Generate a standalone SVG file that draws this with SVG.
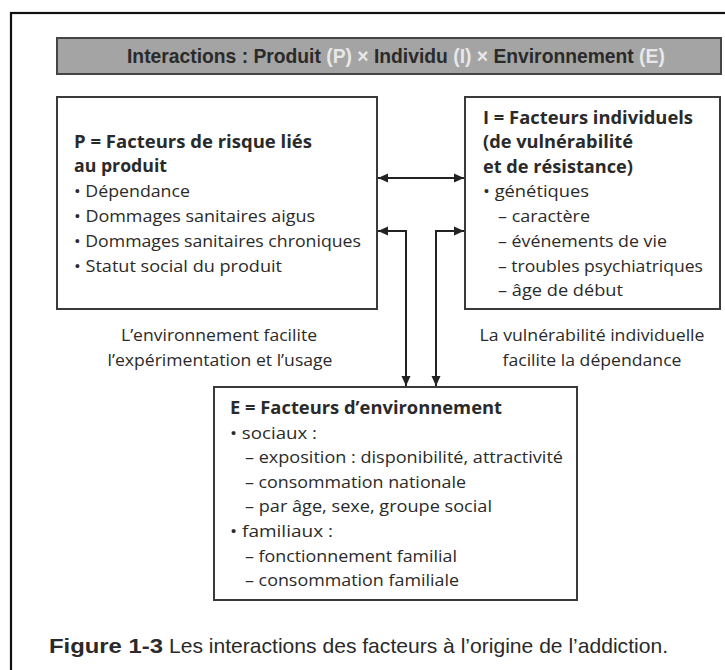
<svg xmlns="http://www.w3.org/2000/svg" width="725" height="670" viewBox="0 0 725 670">
<style>
  .frame{fill:none;stroke:#111;stroke-width:2.2}
  .box{fill:#fff;stroke:#3a3a3a;stroke-width:2}
  .ban{fill:#a4a4a4;stroke:#444;stroke-width:2}
  text{font-family:"Open Sans","Liberation Sans",sans-serif;fill:#2a2a2a}
  .t{font-size:17px}
  .b{font-size:17.5px;font-weight:bold}
  .bt{font-family:"Liberation Sans","Open Sans",sans-serif;font-size:19.3px;font-weight:bold;fill:#2a2a2a}
  .lt{fill:#e8e8e8}
  .cap{font-family:"Liberation Sans","Open Sans",sans-serif;font-size:21px}
  .capb{font-weight:900}
  .conn{fill:none;stroke:#222;stroke-width:2}
</style>
<defs>
  <marker id="ah" viewBox="0 0 10 10" refX="10" refY="5" markerWidth="11" markerHeight="10" markerUnits="userSpaceOnUse" orient="auto-start-reverse">
    <path d="M0,0.5 L10,5 L0,9.5 z" fill="#222"/>
  </marker>
</defs>
<rect class="frame" x="11" y="13" width="760" height="700"/>

<g id="banner">
  <rect class="ban" x="57" y="38" width="664" height="36"/>
  <text class="bt" x="127" y="63">Interactions : Produit <tspan class="lt">(P) ×</tspan> Individu <tspan class="lt">(I) ×</tspan> Environnement <tspan class="lt">(E)</tspan></text>
</g>

<g id="nodeP">
  <rect class="box" x="57" y="97" width="320" height="212"/>
  <text class="b" x="74" y="148" textLength="238" lengthAdjust="spacingAndGlyphs">P = Facteurs de risque liés</text>
  <text class="b" x="74" y="172" textLength="93" lengthAdjust="spacingAndGlyphs">au produit</text>
  <text class="t" x="74" y="197" textLength="116" lengthAdjust="spacingAndGlyphs">• Dépendance</text>
  <text class="t" x="74" y="222" textLength="241" lengthAdjust="spacingAndGlyphs">• Dommages sanitaires aigus</text>
  <text class="t" x="74" y="247" textLength="287" lengthAdjust="spacingAndGlyphs">• Dommages sanitaires chroniques</text>
  <text class="t" x="74" y="272" textLength="208" lengthAdjust="spacingAndGlyphs">• Statut social du produit</text>
</g>

<g id="nodeI">
  <rect class="box" x="465" y="97" width="255" height="212"/>
  <text class="b" x="483" y="124" textLength="210" lengthAdjust="spacingAndGlyphs">I = Facteurs individuels</text>
  <text class="b" x="483" y="148" textLength="150" lengthAdjust="spacingAndGlyphs">(de vulnérabilité</text>
  <text class="b" x="483" y="173" textLength="150" lengthAdjust="spacingAndGlyphs">et de résistance)</text>
  <text class="t" x="483" y="197" textLength="106" lengthAdjust="spacingAndGlyphs">• génétiques</text>
  <text class="t" x="498" y="222" textLength="92" lengthAdjust="spacingAndGlyphs">– caractère</text>
  <text class="t" x="498" y="247" textLength="169" lengthAdjust="spacingAndGlyphs">– événements de vie</text>
  <text class="t" x="498" y="272" textLength="205" lengthAdjust="spacingAndGlyphs">– troubles psychiatriques</text>
  <text class="t" x="498" y="296" textLength="125" lengthAdjust="spacingAndGlyphs">– âge de début</text>
</g>

<g id="labelPE">
  <text class="t" x="219" y="341" text-anchor="middle" textLength="196" lengthAdjust="spacingAndGlyphs">L’environnement facilite</text>
  <text class="t" x="220" y="366" text-anchor="middle" textLength="225" lengthAdjust="spacingAndGlyphs">l’expérimentation et l’usage</text>
</g>

<g id="labelIE">
  <text class="t" x="592" y="341" text-anchor="middle" textLength="225" lengthAdjust="spacingAndGlyphs">La vulnérabilité individuelle</text>
  <text class="t" x="592" y="366" text-anchor="middle" textLength="179" lengthAdjust="spacingAndGlyphs">facilite la dépendance</text>
</g>

<g id="nodeE">
  <rect class="box" x="214" y="387" width="363" height="213"/>
  <text class="b" x="230" y="414" textLength="272" lengthAdjust="spacingAndGlyphs">E = Facteurs d’environnement</text>
  <text class="t" x="230" y="439" textLength="87" lengthAdjust="spacingAndGlyphs">• sociaux :</text>
  <text class="t" x="245" y="463" textLength="318" lengthAdjust="spacingAndGlyphs">– exposition : disponibilité, attractivité</text>
  <text class="t" x="245" y="488" textLength="221" lengthAdjust="spacingAndGlyphs">– consommation nationale</text>
  <text class="t" x="245" y="512" textLength="247" lengthAdjust="spacingAndGlyphs">– par âge, sexe, groupe social</text>
  <text class="t" x="230" y="537" textLength="103" lengthAdjust="spacingAndGlyphs">• familiaux :</text>
  <text class="t" x="245" y="562" textLength="212" lengthAdjust="spacingAndGlyphs">– fonctionnement familial</text>
  <text class="t" x="245" y="586" textLength="214" lengthAdjust="spacingAndGlyphs">– consommation familiale</text>
</g>

<g id="connectors">
  <path class="conn" d="M378,178 H464" marker-start="url(#ah)" marker-end="url(#ah)"/>
  <path class="conn" d="M378,231 H406 V386" marker-start="url(#ah)" marker-end="url(#ah)"/>
  <path class="conn" d="M464,231 H436 V386" marker-start="url(#ah)" marker-end="url(#ah)"/>
</g>

<g id="caption">
  <text class="cap capb" x="49" y="653" textLength="114" lengthAdjust="spacingAndGlyphs">Figure 1-3</text>
  <text class="cap" x="169" y="653" textLength="499" lengthAdjust="spacingAndGlyphs">Les interactions des facteurs à l’origine de l’addiction.</text>
</g>
</svg>
